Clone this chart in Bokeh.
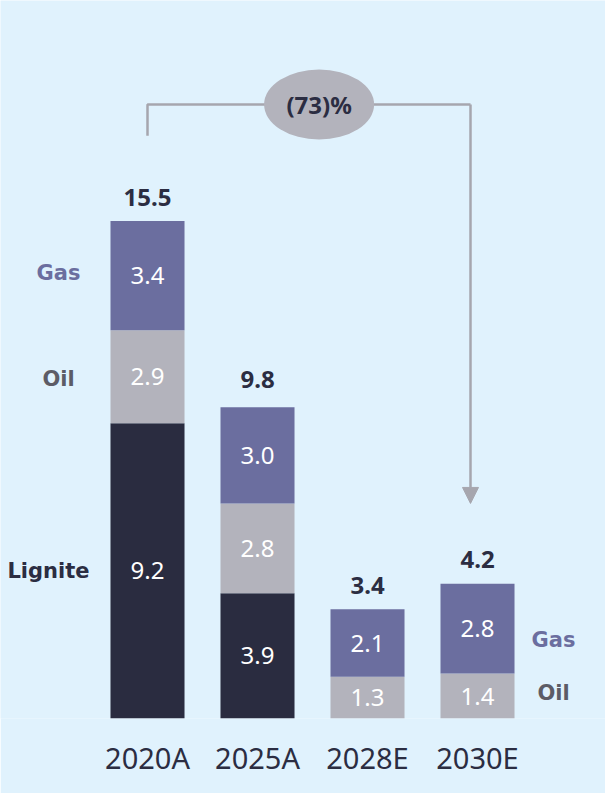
from bokeh.plotting import figure
from bokeh.models import ColumnDataSource, Range1d, FixedTicker, Arrow, NormalHead
from bokeh.core.properties import value
from bokeh.embed import file_html
from bokeh.resources import INLINE

# ---- data ----
categories = ["2020A", "2025A", "2028E", "2030E"]
lignite = [9.2, 3.9, 0.0, 0.0]
oil = [2.9, 2.8, 1.3, 1.4]
gas = [3.4, 3.0, 2.1, 2.8]
totals = [15.5, 9.8, 3.4, 4.2]
change_label = "(73)%"

# ---- style ----
BG = "#e0f2fd"
C_LIG = "#2a2c40"
C_OIL = "#b3b3bc"
C_GAS = "#6b6e9f"
C_TXT = "#2b2d42"
C_LINE = "#a6a6ae"
FONT = "Noto Sans"

xs = list(range(len(categories)))
src = ColumnDataSource(dict(x=xs, Lignite=lignite, Oil=oil, Gas=gas))

p = figure(width=605, height=793, output_backend="svg", toolbar_location=None,
           x_range=Range1d(-1.3364, 4.1636), y_range=Range1d(0, 22.37),
           min_border_left=0, min_border_right=0, min_border_top=0,
           min_border_bottom=75)
p.background_fill_color = BG
p.border_fill_color = BG
p.outline_line_color = None
p.xgrid.visible = False
p.ygrid.visible = False
p.yaxis.visible = False

p.vbar_stack(["Lignite", "Oil", "Gas"], x="x", width=0.673, source=src,
             color=[C_LIG, C_OIL, C_GAS], line_color=None)

# segment labels
sx, sy, st = [], [], []
for i in xs:
    base = 0.0
    for v in (lignite[i], oil[i], gas[i]):
        if v > 0:
            sx.append(i); sy.append(base + v / 2); st.append(f"{v:.1f}")
        base += v
p.text(x=sx, y=sy, text=st, text_color="white", text_font=value(FONT),
       text_font_size="24px", text_align="center", text_baseline="middle")

# totals
p.text(x=xs, y=totals, text=[f"{t:.1f}" for t in totals], text_color=C_TXT,
       text_font=value(FONT), text_font_size="24px", text_font_style="bold",
       text_align="center", text_baseline="middle", y_offset=-24)

# series labels (left of first bar)
g0 = lignite[0] + oil[0] + gas[0] / 2
o0 = lignite[0] + oil[0] / 2
l0 = lignite[0] / 2
lab_font = value("DejaVu Sans")
p.text(x=[0], y=[g0], text=["Gas"], text_color=C_GAS, text_font=lab_font,
       text_font_size="21px", text_font_style="bold", text_align="center",
       text_baseline="middle", x_offset=-89, y_offset=-3)
p.text(x=[0], y=[o0], text=["Oil"], text_color="#5c5c66", text_font=lab_font,
       text_font_size="21px", text_font_style="bold", text_align="center",
       text_baseline="middle", x_offset=-89, y_offset=2)
p.text(x=[0], y=[l0], text=["Lignite"], text_color=C_TXT, text_font=lab_font,
       text_font_size="21px", text_font_style="bold", text_align="center",
       text_baseline="middle", x_offset=-99, y_offset=0)
# series labels (right of last bar)
g3 = oil[3] + gas[3] / 2
o3 = oil[3] / 2
p.text(x=[3], y=[g3], text=["Gas"], text_color=C_GAS, text_font=lab_font,
       text_font_size="21px", text_font_style="bold", text_align="center",
       text_baseline="middle", x_offset=76, y_offset=11)
p.text(x=[3], y=[o3], text=["Oil"], text_color="#5c5c66", text_font=lab_font,
       text_font_size="21px", text_font_style="bold", text_align="center",
       text_baseline="middle", x_offset=76, y_offset=-3)

# bracket with arrow
top_y = 19.13
left_x = 0
right_x = 3 - 7 / 110
p.line(x=[left_x, left_x, right_x], y=[18.16, top_y, top_y],
       line_color=C_LINE, line_width=2.5)
p.add_layout(Arrow(x_start=right_x, y_start=top_y, x_end=right_x, y_end=totals[3] + 2.5,
                   line_color=C_LINE, line_width=2.5,
                   end=NormalHead(size=16, fill_color=C_LINE, line_color=C_LINE)))
p.ellipse(x=[1.56], y=[top_y], width=110, height=70, width_units="screen",
          height_units="screen", fill_color="#b3b3bc", line_color=None)
p.text(x=[1.56], y=[top_y], text=[change_label], text_color=C_TXT,
       text_font=value(FONT), text_font_size="24px", text_font_style="bold",
       text_align="center", text_baseline="middle")

# x axis
ax = p.xaxis[0]
ax.ticker = FixedTicker(ticks=xs)
ax.major_label_overrides = {i: c for i, c in zip(xs, categories)}
ax.axis_line_color = None
ax.major_tick_line_color = None
ax.minor_tick_line_color = None
ax.major_tick_out = 0
ax.major_label_standoff = 19
ax.major_label_text_font = FONT
ax.major_label_text_font_size = "29px"
ax.major_label_text_color = C_TXT

open("out.html", "w").write(file_html(p, INLINE))
